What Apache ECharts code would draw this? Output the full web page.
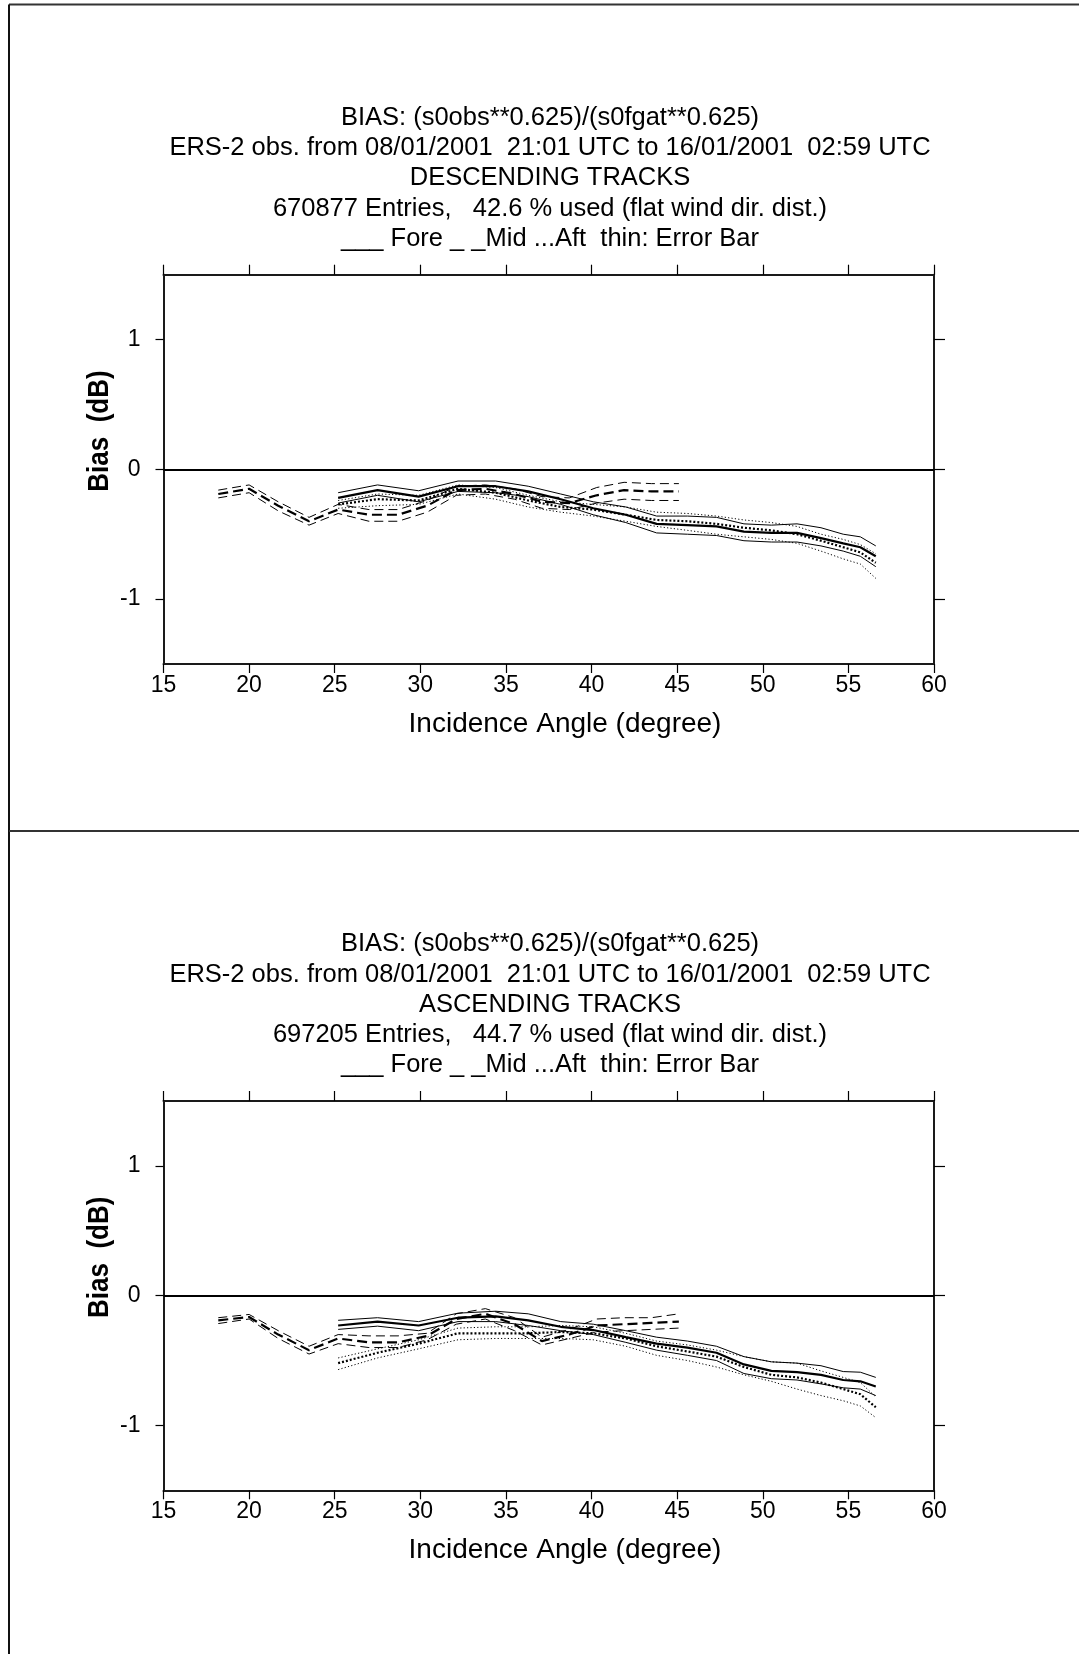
<!DOCTYPE html>
<html>
<head>
<meta charset="utf-8">
<script src="https://cdn.jsdelivr.net/npm/echarts@6/dist/echarts.min.js"></script>
<style>
  html, body { margin: 0; padding: 0; background: #fff; }
  #chart { width: 1079px; height: 1654px; }
</style>
</head>
<body>
<div id="chart"></div>
<script>
// incidence angle nodes
const foreAngle = [25.2, 27.5, 29.9, 32.2, 34.4, 36.3, 38.2, 40.1, 42.0, 43.8, 45.6, 47.3, 48.9, 50.5, 52.0, 53.4, 54.7, 55.7, 56.6]
const midAngle = [18.2, 20.0, 21.7, 23.5, 25.2, 27.0, 28.7, 30.4, 32.1, 33.8, 35.5, 37.1, 38.7, 40.3, 41.9, 43.5, 45.1]

// descending tracks
const descFore = [-0.22, -0.16, -0.21, -0.13, -0.13, -0.17, -0.23, -0.30, -0.35, -0.42, -0.43, -0.44, -0.48, -0.49, -0.49, -0.53, -0.57, -0.60, -0.67]
const descForeHi = [-0.18, -0.12, -0.165, -0.09, -0.09, -0.13, -0.19, -0.25, -0.29, -0.36, -0.36, -0.37, -0.42, -0.43, -0.42, -0.45, -0.50, -0.52, -0.59]
const descForeLo = [-0.26, -0.20, -0.25, -0.17, -0.18, -0.21, -0.27, -0.35, -0.41, -0.49, -0.50, -0.51, -0.55, -0.56, -0.56, -0.59, -0.63, -0.67, -0.75]
const descAft = [-0.27, -0.23, -0.24, -0.15, -0.18, -0.24, -0.29, -0.31, -0.35, -0.39, -0.40, -0.42, -0.45, -0.47, -0.50, -0.55, -0.60, -0.64, -0.72]
const descAftHi = [-0.24, -0.19, -0.20, -0.12, -0.14, -0.20, -0.25, -0.27, -0.29, -0.33, -0.34, -0.36, -0.39, -0.41, -0.44, -0.50, -0.54, -0.58, -0.65]
const descAftLo = [-0.30, -0.28, -0.27, -0.19, -0.23, -0.29, -0.33, -0.36, -0.40, -0.44, -0.47, -0.50, -0.52, -0.54, -0.57, -0.63, -0.69, -0.73, -0.84]
const descMid = [-0.19, -0.15, -0.28, -0.40, -0.31, -0.35, -0.35, -0.28, -0.16, -0.15, -0.19, -0.25, -0.26, -0.20, -0.16, -0.17, -0.17]
const descMidHi = [-0.16, -0.12, -0.25, -0.37, -0.27, -0.31, -0.31, -0.24, -0.13, -0.12, -0.15, -0.21, -0.22, -0.14, -0.10, -0.11, -0.11]
const descMidLo = [-0.22, -0.18, -0.32, -0.43, -0.34, -0.40, -0.40, -0.33, -0.20, -0.19, -0.23, -0.30, -0.31, -0.26, -0.23, -0.24, -0.24]

// ascending tracks
const ascFore = [-0.23, -0.20, -0.23, -0.17, -0.16, -0.19, -0.24, -0.265, -0.32, -0.37, -0.40, -0.44, -0.53, -0.58, -0.59, -0.61, -0.65, -0.66, -0.70]
const ascForeHi = [-0.19, -0.17, -0.20, -0.135, -0.12, -0.14, -0.20, -0.22, -0.27, -0.32, -0.35, -0.39, -0.47, -0.51, -0.52, -0.54, -0.585, -0.59, -0.63]
const ascForeLo = [-0.26, -0.235, -0.27, -0.20, -0.20, -0.23, -0.27, -0.30, -0.36, -0.42, -0.46, -0.50, -0.60, -0.64, -0.65, -0.68, -0.71, -0.72, -0.77]
const ascAft = [-0.52, -0.44, -0.37, -0.29, -0.29, -0.29, -0.28, -0.29, -0.33, -0.39, -0.43, -0.47, -0.55, -0.61, -0.63, -0.67, -0.72, -0.76, -0.86]
const ascAftHi = [-0.48, -0.41, -0.34, -0.25, -0.24, -0.24, -0.23, -0.24, -0.29, -0.35, -0.38, -0.42, -0.47, -0.51, -0.52, -0.58, -0.63, -0.67, -0.78]
const ascAftLo = [-0.57, -0.48, -0.41, -0.34, -0.33, -0.33, -0.33, -0.34, -0.39, -0.46, -0.50, -0.55, -0.61, -0.66, -0.72, -0.77, -0.81, -0.85, -0.94]
const ascMid = [-0.19, -0.165, -0.30, -0.42, -0.33, -0.36, -0.36, -0.31, -0.18, -0.14, -0.22, -0.35, -0.30, -0.23, -0.22, -0.21, -0.20]
const ascMidHi = [-0.17, -0.145, -0.27, -0.39, -0.30, -0.31, -0.31, -0.29, -0.14, -0.10, -0.17, -0.32, -0.26, -0.18, -0.17, -0.17, -0.14]
const ascMidLo = [-0.215, -0.18, -0.33, -0.45, -0.37, -0.40, -0.40, -0.34, -0.22, -0.18, -0.27, -0.38, -0.33, -0.28, -0.27, -0.26, -0.25]

const xTicks = [15, 20, 25, 30, 35, 40, 45, 50, 55, 60]
const yTicks = [-1, 0, 1]

const descTitle = [
  'BIAS: (s0obs**0.625)/(s0fgat**0.625)',
  'ERS-2 obs. from 08/01/2001  21:01 UTC to 16/01/2001  02:59 UTC',
  'DESCENDING TRACKS',
  '670877 Entries,   42.6 % used (flat wind dir. dist.)',
  '___ Fore _ _Mid ...Aft  thin: Error Bar'
]
const ascTitle = [
  'BIAS: (s0obs**0.625)/(s0fgat**0.625)',
  'ERS-2 obs. from 08/01/2001  21:01 UTC to 16/01/2001  02:59 UTC',
  'ASCENDING TRACKS',
  '697205 Entries,   44.7 % used (flat wind dir. dist.)',
  '___ Fore _ _Mid ...Aft  thin: Error Bar'
]

const FONT = '"Liberation Sans", Arial, Helvetica, sans-serif'
const PANEL = 826.3 // vertical offset of the second panel

let chart = echarts.init(document.getElementById('chart'))

const pairs = (xs, ys) => xs.map((x, i) => [x, ys[i]])

// one line of the plot
const mkLine = (idx, xs, ys, kind, thick) => {
  let type = 'solid'
  if (kind === 'mid') type = thick ? [10, 5] : [9, 5]
  if (kind === 'aft') type = thick ? [2, 2] : [1.2, 2.2]
  return {
    type: 'line',
    xAxisIndex: idx * 2,
    yAxisIndex: idx * 2,
    data: pairs(xs, ys),
    symbol: 'none',
    silent: true,
    animation: false,
    lineStyle: { color: '#000', width: thick ? 2.2 : 1, type: type }
  }
}

const mkPanel = (idx, fore, foreHi, foreLo, mid, midHi, midLo, aft, aftHi, aftLo) => {
  let list = [
    mkLine(idx, foreAngle, fore, 'fore', true),
    mkLine(idx, foreAngle, foreHi, 'fore', false),
    mkLine(idx, foreAngle, foreLo, 'fore', false),
    mkLine(idx, midAngle, mid, 'mid', true),
    mkLine(idx, midAngle, midHi, 'mid', false),
    mkLine(idx, midAngle, midLo, 'mid', false),
    mkLine(idx, foreAngle, aft, 'aft', true),
    mkLine(idx, foreAngle, aftHi, 'aft', false),
    mkLine(idx, foreAngle, aftLo, 'aft', false)
  ]
  // zero line
  list[0].markLine = {
    silent: true,
    symbol: ['none', 'none'],
    label: { show: false },
    lineStyle: { color: '#000', width: 2, type: 'solid' },
    data: [{ yAxis: 0 }]
  }
  return list
}

const axisLine = { show: true, onZero: false, lineStyle: { color: '#1a1a1a', width: 2 } }

const mkAxes = (idx) => {
  let x = [
    {
      type: 'value', gridIndex: idx, position: 'bottom', min: 15, max: 60, interval: 5,
      axisLine: axisLine,
      axisTick: { show: true, inside: false, length: 9, lineStyle: { color: '#000', width: 1.2 }, customValues: xTicks },
      axisLabel: { show: true, fontSize: 23, margin: 10, color: '#000', fontFamily: FONT, customValues: xTicks },
      splitLine: { show: false }
    },
    {
      type: 'value', gridIndex: idx, position: 'top', min: 15, max: 60, interval: 5,
      axisLine: axisLine,
      axisTick: { show: true, inside: false, length: 10, lineStyle: { color: '#000', width: 1.2 }, customValues: xTicks },
      axisLabel: { show: false },
      splitLine: { show: false }
    }
  ]
  let y = [
    {
      type: 'value', gridIndex: idx, position: 'left', min: -1.5, max: 1.5,
      axisLine: axisLine,
      axisTick: { show: true, inside: false, length: 8, lineStyle: { color: '#000', width: 1.2 }, customValues: yTicks },
      axisLabel: { show: true, fontSize: 23, margin: 23, color: '#000', fontFamily: FONT, customValues: yTicks },
      splitLine: { show: false }
    },
    {
      type: 'value', gridIndex: idx, position: 'right', min: -1.5, max: 1.5,
      axisLine: axisLine,
      axisTick: { show: true, inside: false, length: 11, lineStyle: { color: '#000', width: 1.2 }, customValues: yTicks },
      axisLabel: { show: false },
      splitLine: { show: false }
    }
  ]
  return { x, y }
}

const mkTexts = (lines, dy) => {
  let out = lines.map((t, i) => ({
    type: 'text',
    x: 550,
    y: 118 + i * 30.2 + dy,
    silent: true,
    style: { text: t, fill: '#000', font: '25.5px ' + FONT, align: 'center', verticalAlign: 'middle' }
  }))
  out.push({
    type: 'text', x: 565, y: 724 + dy, silent: true,
    style: { text: 'Incidence Angle (degree)', fill: '#000', font: '28px ' + FONT, align: 'center', verticalAlign: 'middle' }
  })
  out.push({
    type: 'text', x: 100, y: 431 + dy, rotation: Math.PI / 2, scaleY: 1.15, silent: true,
    style: { text: 'Bias  (dB)', fill: '#000', font: 'bold 26px ' + FONT, align: 'center', verticalAlign: 'middle' }
  })
  return out
}

const a0 = mkAxes(0)
const a1 = mkAxes(1)

// page frame
const frame = [
  { type: 'line', silent: true, shape: { x1: 9, y1: 4.5, x2: 1079, y2: 4.5 }, style: { stroke: '#333', lineWidth: 2 } },
  { type: 'line', silent: true, shape: { x1: 9, y1: 4.5, x2: 9, y2: 1654 }, style: { stroke: '#111', lineWidth: 2 } },
  { type: 'line', silent: true, shape: { x1: 9, y1: 831, x2: 1079, y2: 831 }, style: { stroke: '#333', lineWidth: 2 } }
]

chart.setOption({
  backgroundColor: '#fff',
  animation: false,
  grid: [
    { left: 163.5, top: 274.7, width: 770.5, height: 389.3 },
    { left: 163.5, top: 274.7 + PANEL, width: 770.5, height: 389.3 }
  ],
  xAxis: [a0.x[0], a0.x[1], a1.x[0], a1.x[1]],
  yAxis: [a0.y[0], a0.y[1], a1.y[0], a1.y[1]],
  series: [].concat(
    mkPanel(0, descFore, descForeHi, descForeLo, descMid, descMidHi, descMidLo, descAft, descAftHi, descAftLo),
    mkPanel(1, ascFore, ascForeHi, ascForeLo, ascMid, ascMidHi, ascMidLo, ascAft, ascAftHi, ascAftLo)
  ),
  graphic: [].concat(frame, mkTexts(descTitle, 0), mkTexts(ascTitle, PANEL))
})

window.addEventListener('resize', function() {
  chart.resize()
})
</script>
</body>
</html>
